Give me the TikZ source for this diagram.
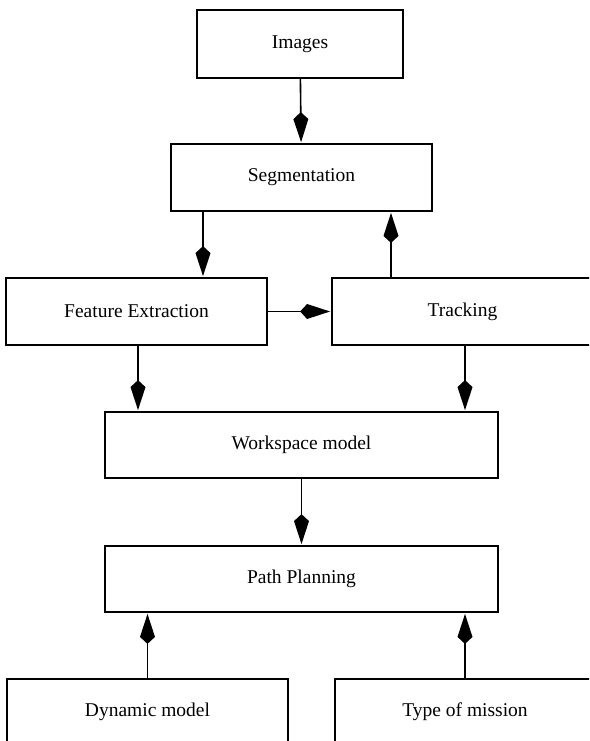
\documentclass[tikz,border=0pt]{standalone}
\usepackage{fontspec}
\setmainfont{Liberation Serif}
\usetikzlibrary{arrows.meta}
\tikzset{
  box/.style={draw, line width=1.8pt, fill=white, inner sep=0pt, font=\fontsize{19.5}{22}\selectfont},
  arr/.style={line width=1.6pt, -{Kite[length=30pt,width=15pt,inset=7pt]}, shorten >=1pt}
}
\begin{document}
\begin{tikzpicture}[x=1pt,y=-1pt]
\useasboundingbox (0,0) rectangle (589,741);
\clip (0,0) rectangle (589,741);
\node[box, minimum width=206pt, minimum height=68pt] (img) at (300,44) {Images};
\node[box, minimum width=261pt, minimum height=67pt] (seg) at (301.5,177.5) {Segmentation};
\node[box, minimum width=261pt, minimum height=67pt] (fe) at (136.5,311.5) {Feature Extraction};
\node[box, minimum width=261pt, minimum height=67pt] (trk) at (462.5,311.5) {Tracking};
\node[box, minimum width=393pt, minimum height=66pt] (wm) at (301.5,445) {Workspace model};
\node[box, minimum width=393pt, minimum height=66pt] (pp) at (301.5,579) {Path Planning};
\node[box, minimum width=281pt, minimum height=66pt] (dm) at (147.5,712) {Dynamic model};
\node[box, minimum width=260pt, minimum height=66pt] (tm) at (465,712) {Type of mission};
\draw[arr] (img) -- (seg);
\draw[arr] ([xshift=-98.5pt]seg.south) -- ([xshift=-98.5pt]seg.south |- fe.north);
\draw[arr] ([xshift=-71.5pt]trk.north) -- ([xshift=-71.5pt]trk.north |- seg.south);
\draw[arr] (fe) -- (trk);
\draw[arr] ([xshift=1.5pt]fe.south) -- ([xshift=1.5pt]fe.south |- wm.north);
\draw[arr] ([xshift=2.5pt]trk.south) -- ([xshift=2.5pt]trk.south |- wm.north);
\draw[arr] (wm) -- (pp);
\draw[arr] (dm.north) -- (dm.north |- pp.south);
\draw[arr] (tm.north) -- (tm.north |- pp.south);
\end{tikzpicture}
\end{document}
